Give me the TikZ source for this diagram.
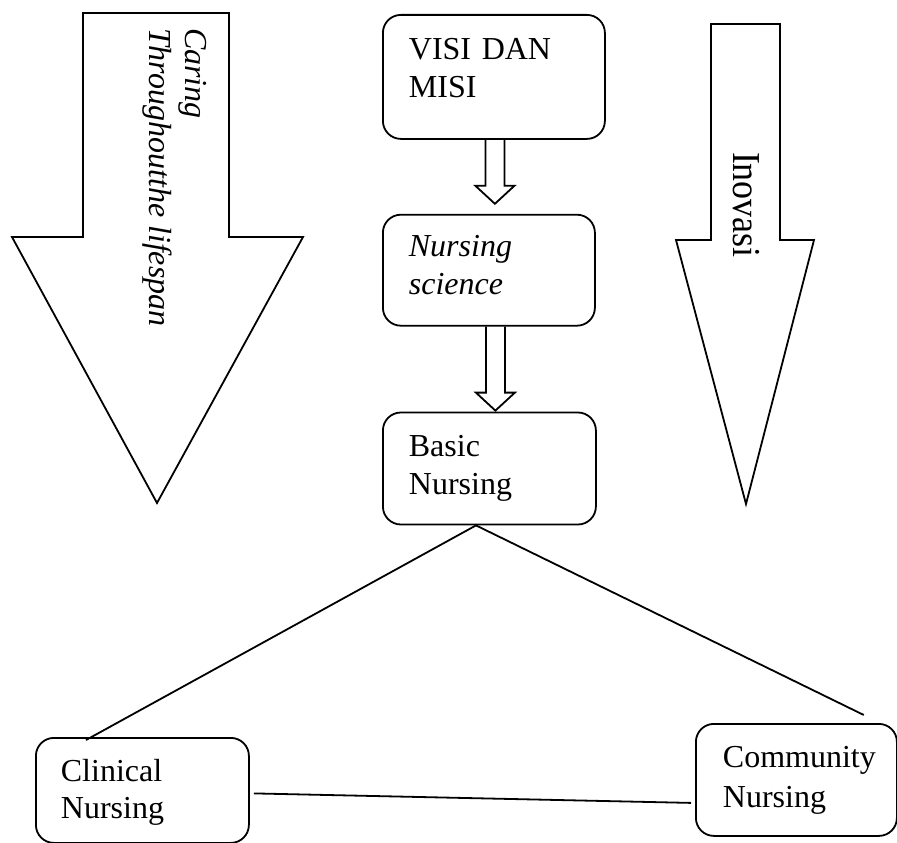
\documentclass[tikz,border=0pt]{standalone}
\usepackage{fontspec}
\setmainfont{Liberation Serif}
\usetikzlibrary{positioning,calc}
\newcommand{\hollowarrow}[3]{%
    \coordinate (tip) at ($(#2.north)+(6,-#3)$);
    \draw[hollowline] ($(tip |- #1.south)+(-9.5,0)$) -- ($(tip)+(-9.5,-18)$) -- ($(tip)+(-19.5,-18)$) -- (tip)
        -- ($(tip)+(19.5,-18)$) -- ($(tip)+(9.5,-18)$) -- ($(tip |- #1.south)+(9.5,0)$);}
\tikzset{
    mapbox/.style={rectangle,draw,rounded corners=18pt,align=left,anchor=north west,line width=1.8pt,inner ysep=0pt,inner xsep=26pt},
    hollowline/.style={line width=1.8pt,line join=miter},
    bigarrow/.style={line width=1.8pt,line join=miter},
    linkline/.style={line width=1.8pt}
}
\begin{document}
\begin{tikzpicture}[x=1pt,y=-1pt,font=\fontsize{32}{38}\selectfont]
    \useasboundingbox (0,0) rectangle (897,843);
    % big arrows at the sides
    \draw[bigarrow] (83,13) -- (229,13) -- (229,237) -- (303,237) -- (157,503) -- (12,237) -- (83,237) -- cycle;
    \draw[bigarrow] (711,24) -- (780,24) -- (780,240) -- (814,240) -- (746,504) -- (676,240) -- (711,240) -- cycle;
    \node[rotate=-90,anchor=north west,align=left,inner sep=0pt,font=\fontsize{32}{36}\selectfont\itshape] (caring) at (207,28) {Caring\\Throughoutthe lifespan};
    \node[rotate=-90,inner sep=0pt,font=\fontsize{36}{40}\selectfont] (inovasi) at (746,205) {\scalebox{1}[1.1]{Inovasi}};
    % middle column
    \node[mapbox,text width=170pt,text height=45pt,text depth=79pt] (visi) at (382,14) {VISI DAN\\MISI};
    \node[mapbox,below=74pt of visi.south west,anchor=north west,text width=160pt,text height=42pt,text depth=69pt,font=\fontsize{32}{38}\selectfont\itshape] (science) {Nursing\\science};
    \node[mapbox,below=85pt of science.south west,anchor=north west,text width=161pt,text height=44pt,text depth=68pt] (basic) {Basic\\Nursing};
    \hollowarrow{visi}{science}{10}
    \hollowarrow{science}{basic}{1}
    % bottom boxes
    \node[mapbox,inner xsep=25pt,text width=163pt,text height=44pt,text depth=61pt,font=\fontsize{32}{37}\selectfont] (clinical) at (35,737) {Clinical\\Nursing};
    \node[mapbox,inner xsep=27pt,text width=147pt,text height=44pt,text depth=68pt,font=\fontsize{32}{40}\selectfont] (community) at (695,723) {Community\\Nursing};
    \coordinate (apex) at ($(basic.south west)+(94,0)$);
    \draw[linkline] (apex) -- ($(clinical.north west)+(51,3)$);
    \draw[linkline] (apex) -- ($(community.north east)+(-34,-8)$);
    \draw[linkline] ($(clinical.east)+(4,3)$) -- ($(community.west)+(-4,23)$);
\end{tikzpicture}
\end{document}
